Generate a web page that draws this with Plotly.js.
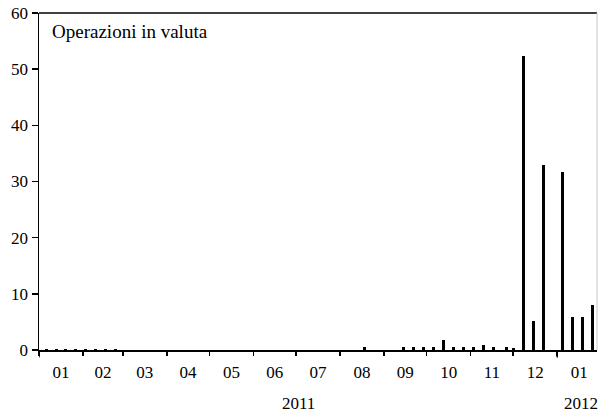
<!DOCTYPE html>
<html>
<head>
<meta charset="utf-8">
<script src="https://cdn.plot.ly/plotly-3.0.1.min.js"></script>
<style>
html,body{margin:0;padding:0;background:#fff;font-family:"Liberation Serif",serif;}
#chart{width:601px;height:412px;}
</style>
</head>
<body>
<div id="chart"></div>
<script>
var dates = ["2011-01-06","2011-01-13","2011-01-20","2011-01-27","2011-02-03","2011-02-10","2011-02-17","2011-02-24",
  "2011-08-18","2011-09-15","2011-09-22","2011-09-29","2011-10-06","2011-10-13","2011-10-20","2011-10-27",
  "2011-11-03","2011-11-10","2011-11-17","2011-11-26","2011-12-01","2011-12-08","2011-12-15","2011-12-22",
  "2012-01-05","2012-01-12","2012-01-19","2012-01-26"];
var values = [0.1,0.1,0.1,0.1,0.1,0.1,0.1,0.1,
  0.5,0.5,0.5,0.5,0.5,1.8,0.5,0.5,
  0.5,0.9,0.5,0.5,0.35,52.3,5.2,33.0,
  31.7,5.8,5.9,8.0];
var seriesName = "Operazioni in valuta";
var yTicks = [0,10,20,30,40,50,60];
var yearLabels = ["2011","2012"];
var yearMarks = ["2011-01-01","2012-01-01"];

function F(s){ return {family: "Liberation Serif", size: s || 17, color: "#000"}; }

var trace = {
  type: "bar",
  x: dates,
  y: values,
  width: 2.1*86400000,
  marker: {color: "#000", line: {width: 0}},
  hoverinfo: "x+y"
};

var shapes = [
  {type:"line", xref:"paper", yref:"paper", x0:0, x1:1, y0:1, y1:1, line:{color:"#000", width:1.5}},
  {type:"line", xref:"paper", yref:"paper", x0:1, x1:1, y0:0, y1:1, line:{color:"#c8c8c8", width:1}}
];
yearMarks.forEach(function(d){
  shapes.push({type:"line", xref:"x", yref:"paper", x0:d, x1:d, y0:0, y1:-0.022, line:{color:"#000", width:1.5}});
});

var layout = {
  width: 601, height: 412,
  margin: {l: 39, r: 4, t: 13, b: 62},
  paper_bgcolor: "#fff", plot_bgcolor: "#fff",
  font: F(17),
  showlegend: false,
  bargap: 0,
  xaxis: {
    type: "date",
    range: ["2011-01-01", "2012-01-29"],
    dtick: "M1",
    tick0: "2011-01-01",
    tickformat: "%m",
    ticklabelmode: "period",
    ticks: "outside", ticklen: 4, tickwidth: 1.5, tickcolor: "#000",
    showline: true, linecolor: "#000", linewidth: 1.5,
    showgrid: false, zeroline: false,
    ticklabelstandoff: 2,
    tickfont: F(17)
  },
  yaxis: {
    range: [0, 60],
    tickvals: yTicks,
    ticks: "outside", ticklen: 6, tickwidth: 1.5, tickcolor: "#000",
    showline: true, linecolor: "#000", linewidth: 1.5,
    showgrid: false, zeroline: false,
    tickfont: F(17)
  },
  shapes: shapes,
  annotations: [
    {text: seriesName, xref:"paper", yref:"paper", x:0.02, y:0.945, xanchor:"left", yanchor:"middle", showarrow:false, font: F(19)},
    {text: yearLabels[0], xref:"paper", yref:"paper", x:(298-39)/558, y:-0.16, xanchor:"center", yanchor:"middle", showarrow:false, font: F(17)},
    {text: yearLabels[1], xref:"paper", yref:"paper", x:1.006, y:-0.16, xanchor:"right", yanchor:"middle", showarrow:false, font: F(17)}
  ]
};

Plotly.newPlot("chart", [trace], layout, {displayModeBar: false, staticPlot: true});
</script>
</body>
</html>
